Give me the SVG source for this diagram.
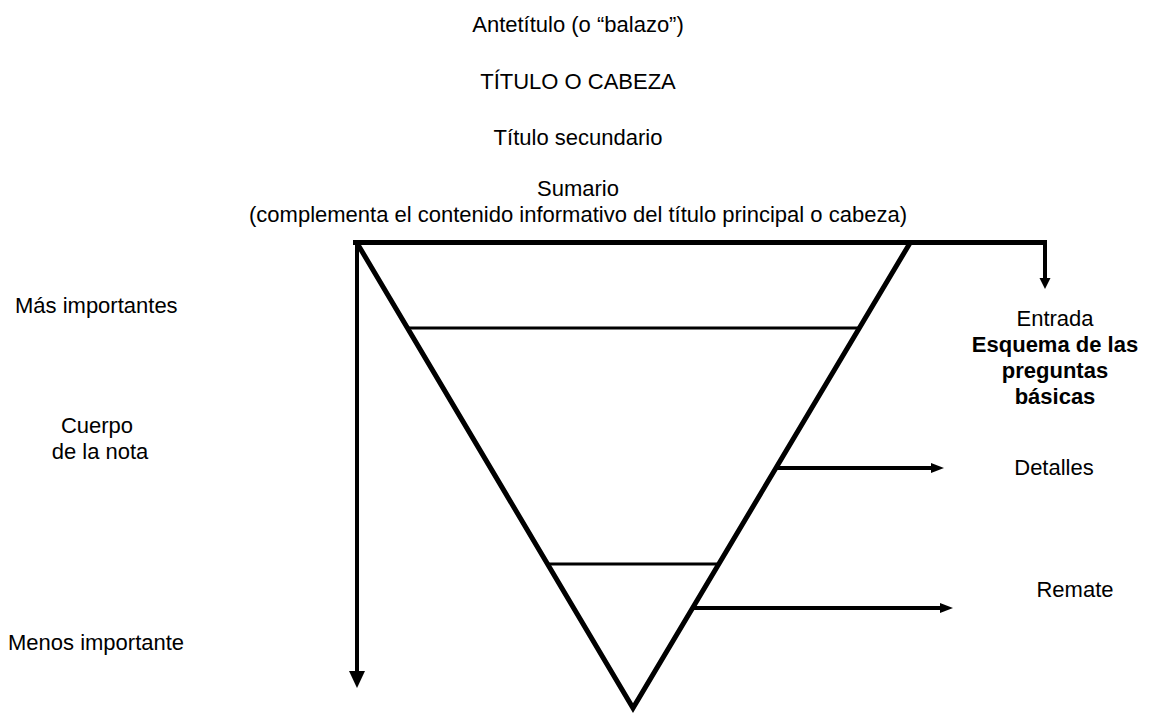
<svg xmlns="http://www.w3.org/2000/svg" width="1149" height="715" viewBox="0 0 1149 715">
<defs>
<style>
text{font-family:"Liberation Sans",Arial,sans-serif;font-size:22px;fill:#000}
.c{text-anchor:middle}
.b{font-weight:bold}
.thick{stroke:#000;stroke-width:5;fill:none;stroke-linejoin:miter;stroke-miterlimit:10}
.thin{stroke:#000;stroke-width:3;fill:none}
.arr{stroke:#000;stroke-width:4;fill:none}
.head{fill:#000;stroke:none}
</style>
</defs>
<rect width="1149" height="715" fill="#fff"/>
<g id="titles">
<text id="antetitulo" class="c" x="578" y="32">Antetítulo (o “balazo”)</text>
<text id="titulo" class="c" x="578" y="89">TÍTULO O CABEZA</text>
<text id="secundario" class="c" x="578" y="145">Título secundario</text>
<text id="sumario" class="c" x="578" y="196">Sumario</text>
<text id="sumario2" class="c" x="578" y="222">(complementa el contenido informativo del título principal o cabeza)</text>
</g>
<g id="pyramid">
<polyline class="thick" points="357,243 633,708 910,243"/>
<line class="thin" x1="408" y1="328" x2="860" y2="328"/>
<line class="thin" x1="548" y1="564" x2="719" y2="564"/>
</g>
<g id="left-labels">
<text id="mas" x="15" y="313">Más importantes</text>
<text id="cuerpo" class="c" x="97" y="433">Cuerpo</text>
<text id="nota" class="c" x="100" y="459">de la nota</text>
<text id="menos" x="8" y="650">Menos importante</text>
</g>
<g id="right-labels">
<text id="entrada" class="c" x="1055" y="326">Entrada</text>
<text class="c b" x="1055" y="352">Esquema de las</text>
<text class="c b" x="1055" y="378">preguntas</text>
<text class="c b" x="1055" y="404">básicas</text>
<text id="detalles" class="c" x="1054" y="475">Detalles</text>
<text id="remate" class="c" x="1075" y="597">Remate</text>
</g>
<g id="connectors">
<polyline class="thick" points="353,242.5 1047,242.5"/>
<line class="arr" x1="1045" y1="242" x2="1045" y2="279"/>
<polygon class="head" points="1039.5,278 1050.5,278 1045,289"/>
<line class="arr" x1="357" y1="242" x2="357" y2="672"/>
<polygon class="head" points="349,671 365,671 357,688"/>
<line class="arr" x1="776" y1="468" x2="932" y2="468"/>
<polygon class="head" points="931,463 931,473 944,468"/>
<line class="arr" x1="693" y1="608" x2="941" y2="608"/>
<polygon class="head" points="940,603 940,613 953,608"/>
</g>
</svg>
